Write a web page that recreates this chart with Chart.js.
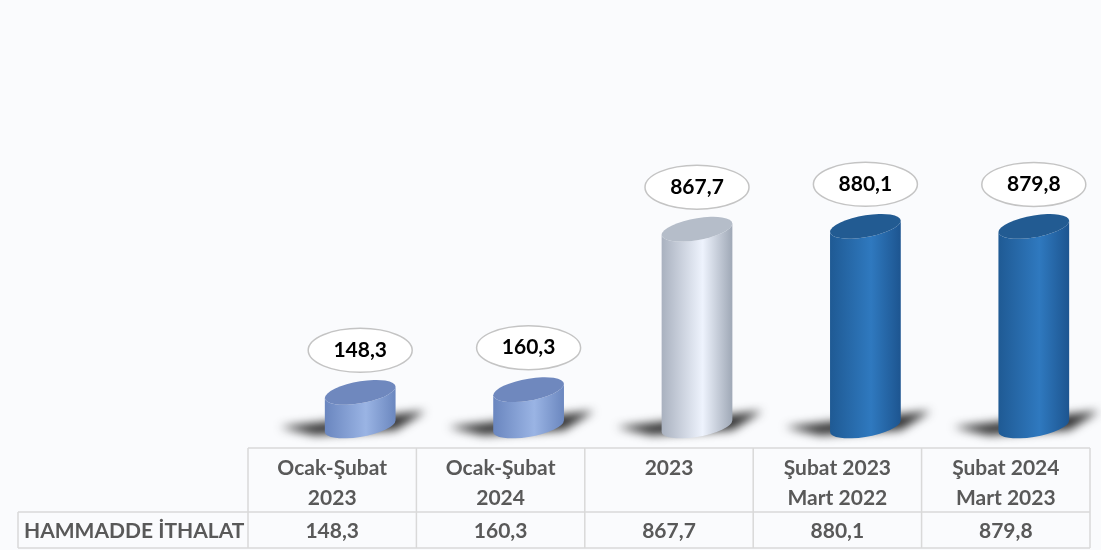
<!DOCTYPE html>
<html lang="tr">
<head>
  <meta charset="UTF-8">
  <script src="https://cdn.jsdelivr.net/npm/chart.js"></script>
  <title>Hammadde İthalat</title>
  <style>
    html, body { margin: 0; padding: 0; background: #fafbfd; }
    #wrap { width: 1101px; height: 550px; }
  </style>
</head>
<body>
<div id="wrap"><canvas id="myChart" width="1101" height="550"></canvas></div>
<script>
  // veriler
  const categories = [['Ocak-Şubat', '2023'], ['Ocak-Şubat', '2024'], ['2023'], ['Şubat 2023', 'Mart 2022'], ['Şubat 2024', 'Mart 2023']];
  const rowLabel = 'HAMMADDE İTHALAT';
  const values = [148.3, 160.3, 867.7, 880.1, 879.8];

  // renkler (sol kenar, orta, sağ kenar, üst)
  const styles = [
    ['#6a86bf', '#9ab4e4', '#6b87bf', '#6f88be'],
    ['#6a86bf', '#9ab4e4', '#6b87bf', '#6f88be'],
    ['#a9b1bf', '#eef3fd', '#9fa8b6', '#b5bdc9'],
    ['#1f5a94', '#2f79bf', '#1d5590', '#225b92'],
    ['#1f5a94', '#2f79bf', '#1d5590', '#225b92']
  ];

  const FONT = 'Lato, "Open Sans", sans-serif';
  const fmt = v => v.toFixed(1).replace('.', ',');

  const cylinders = {
    id: 'cylinders',
    afterDatasetsDraw(chart) {
      const ctx = chart.ctx;
      const meta = chart.getDatasetMeta(0);
      const shift = 28;   // 3B derinlik kayması
      const skew = -0.16;
      const ry = 11;
      // gölgeler
      meta.data.forEach((el) => {
        const cx = el.x + shift, rx = el.width / 2, base = el.base;
        ctx.save();
        ctx.filter = 'blur(5px)';
        ctx.fillStyle = 'rgba(25,25,25,0.9)';
        ctx.beginPath();
        ctx.moveTo(cx + rx + 30, base - 15);
        ctx.lineTo(cx - rx - 45, base + 1);
        ctx.lineTo(cx - rx - 10, base + 9);
        ctx.lineTo(cx + rx, base + 4);
        ctx.closePath();
        ctx.fill();
        ctx.restore();
      });
      meta.data.forEach((el, i) => {
        const s = styles[i];
        const cx = el.x + shift, rx = el.width / 2, top = el.y, base = el.base;
        ctx.save();
        ctx.translate(cx, 0);
        ctx.transform(1, skew, 0, 1, 0, 0);
        const g = ctx.createLinearGradient(-rx, 0, rx, 0);
        g.addColorStop(0, s[0]);
        g.addColorStop(0.58, s[1]);
        g.addColorStop(1, s[2]);
        ctx.beginPath();
        ctx.moveTo(-rx, top);
        ctx.lineTo(-rx, base);
        ctx.ellipse(0, base, rx, ry, 0, Math.PI, 0, true);
        ctx.lineTo(rx, top);
        ctx.ellipse(0, top, rx, ry, 0, 0, Math.PI, false);
        ctx.closePath();
        ctx.fillStyle = g;
        ctx.fill();
        ctx.beginPath();
        ctx.ellipse(0, top, rx, ry, 0, 0, Math.PI * 2);
        ctx.fillStyle = s[3];
        ctx.fill();
        ctx.restore();

        // değer etiketi
        const ly = top - 42;
        ctx.save();
        ctx.beginPath();
        ctx.ellipse(cx, ly, 52, 22, 0, 0, Math.PI * 2);
        ctx.fillStyle = '#ffffff';
        ctx.fill();
        ctx.lineWidth = 1.5;
        ctx.strokeStyle = '#c4c4c4';
        ctx.stroke();
        ctx.fillStyle = '#000000';
        ctx.font = 'bold 21px ' + FONT;
        ctx.textAlign = 'center';
        ctx.textBaseline = 'middle';
        ctx.fillText(fmt(values[i]), cx, ly);
        ctx.restore();
      });
    }
  };

  const dataTable = {
    id: 'dataTable',
    afterDraw(chart) {
      const ctx = chart.ctx;
      const xs = chart.scales.x;
      const n = categories.length;
      const cw = (chart.chartArea.right - chart.chartArea.left) / n;
      const left = chart.chartArea.left, right = chart.chartArea.right;
      const y0 = 448, y1 = 512, y2 = 548;
      const rowLeft = 18;
      ctx.save();
      ctx.strokeStyle = '#d9d9d9';
      ctx.lineWidth = 1.5;
      ctx.beginPath();
      ctx.moveTo(left, y0); ctx.lineTo(right, y0);
      ctx.moveTo(rowLeft, y1); ctx.lineTo(right, y1);
      ctx.moveTo(rowLeft, y2); ctx.lineTo(right, y2);
      ctx.moveTo(rowLeft, y1); ctx.lineTo(rowLeft, y2);
      for (let i = 0; i <= n; i++) {
        const x = left + i * cw;
        ctx.moveTo(x, y0); ctx.lineTo(x, y2);
      }
      ctx.stroke();

      ctx.fillStyle = '#595959';
      ctx.font = 'bold 21px ' + FONT;
      ctx.textBaseline = 'middle';
      ctx.textAlign = 'center';
      categories.forEach((lines, i) => {
        const x = xs.getPixelForValue(i);
        lines.forEach((t, j) => ctx.fillText(t, x, 468 + j * 30));
        ctx.fillText(fmt(values[i]), x, 531);
      });
      ctx.textAlign = 'left';
      ctx.fillText(rowLabel, 24, 531);
      ctx.restore();
    }
  };

  new Chart(document.getElementById('myChart'), {
    type: 'bar',
    data: {
      labels: categories.map(c => c.join(' ')),
      datasets: [{
        label: rowLabel,
        data: values,
        backgroundColor: 'rgba(0,0,0,0)',
        barPercentage: 0.42,
        categoryPercentage: 1
      }]
    },
    options: {
      responsive: false,
      animation: false,
      layout: { padding: { left: 248, right: 11, top: 29, bottom: 124 } },
      plugins: { legend: { display: false }, tooltip: { enabled: false } },
      scales: {
        x: { display: false },
        y: { display: false, min: 0, max: 1750 }
      }
    },
    plugins: [cylinders, dataTable]
  });
</script>
</body>
</html>
